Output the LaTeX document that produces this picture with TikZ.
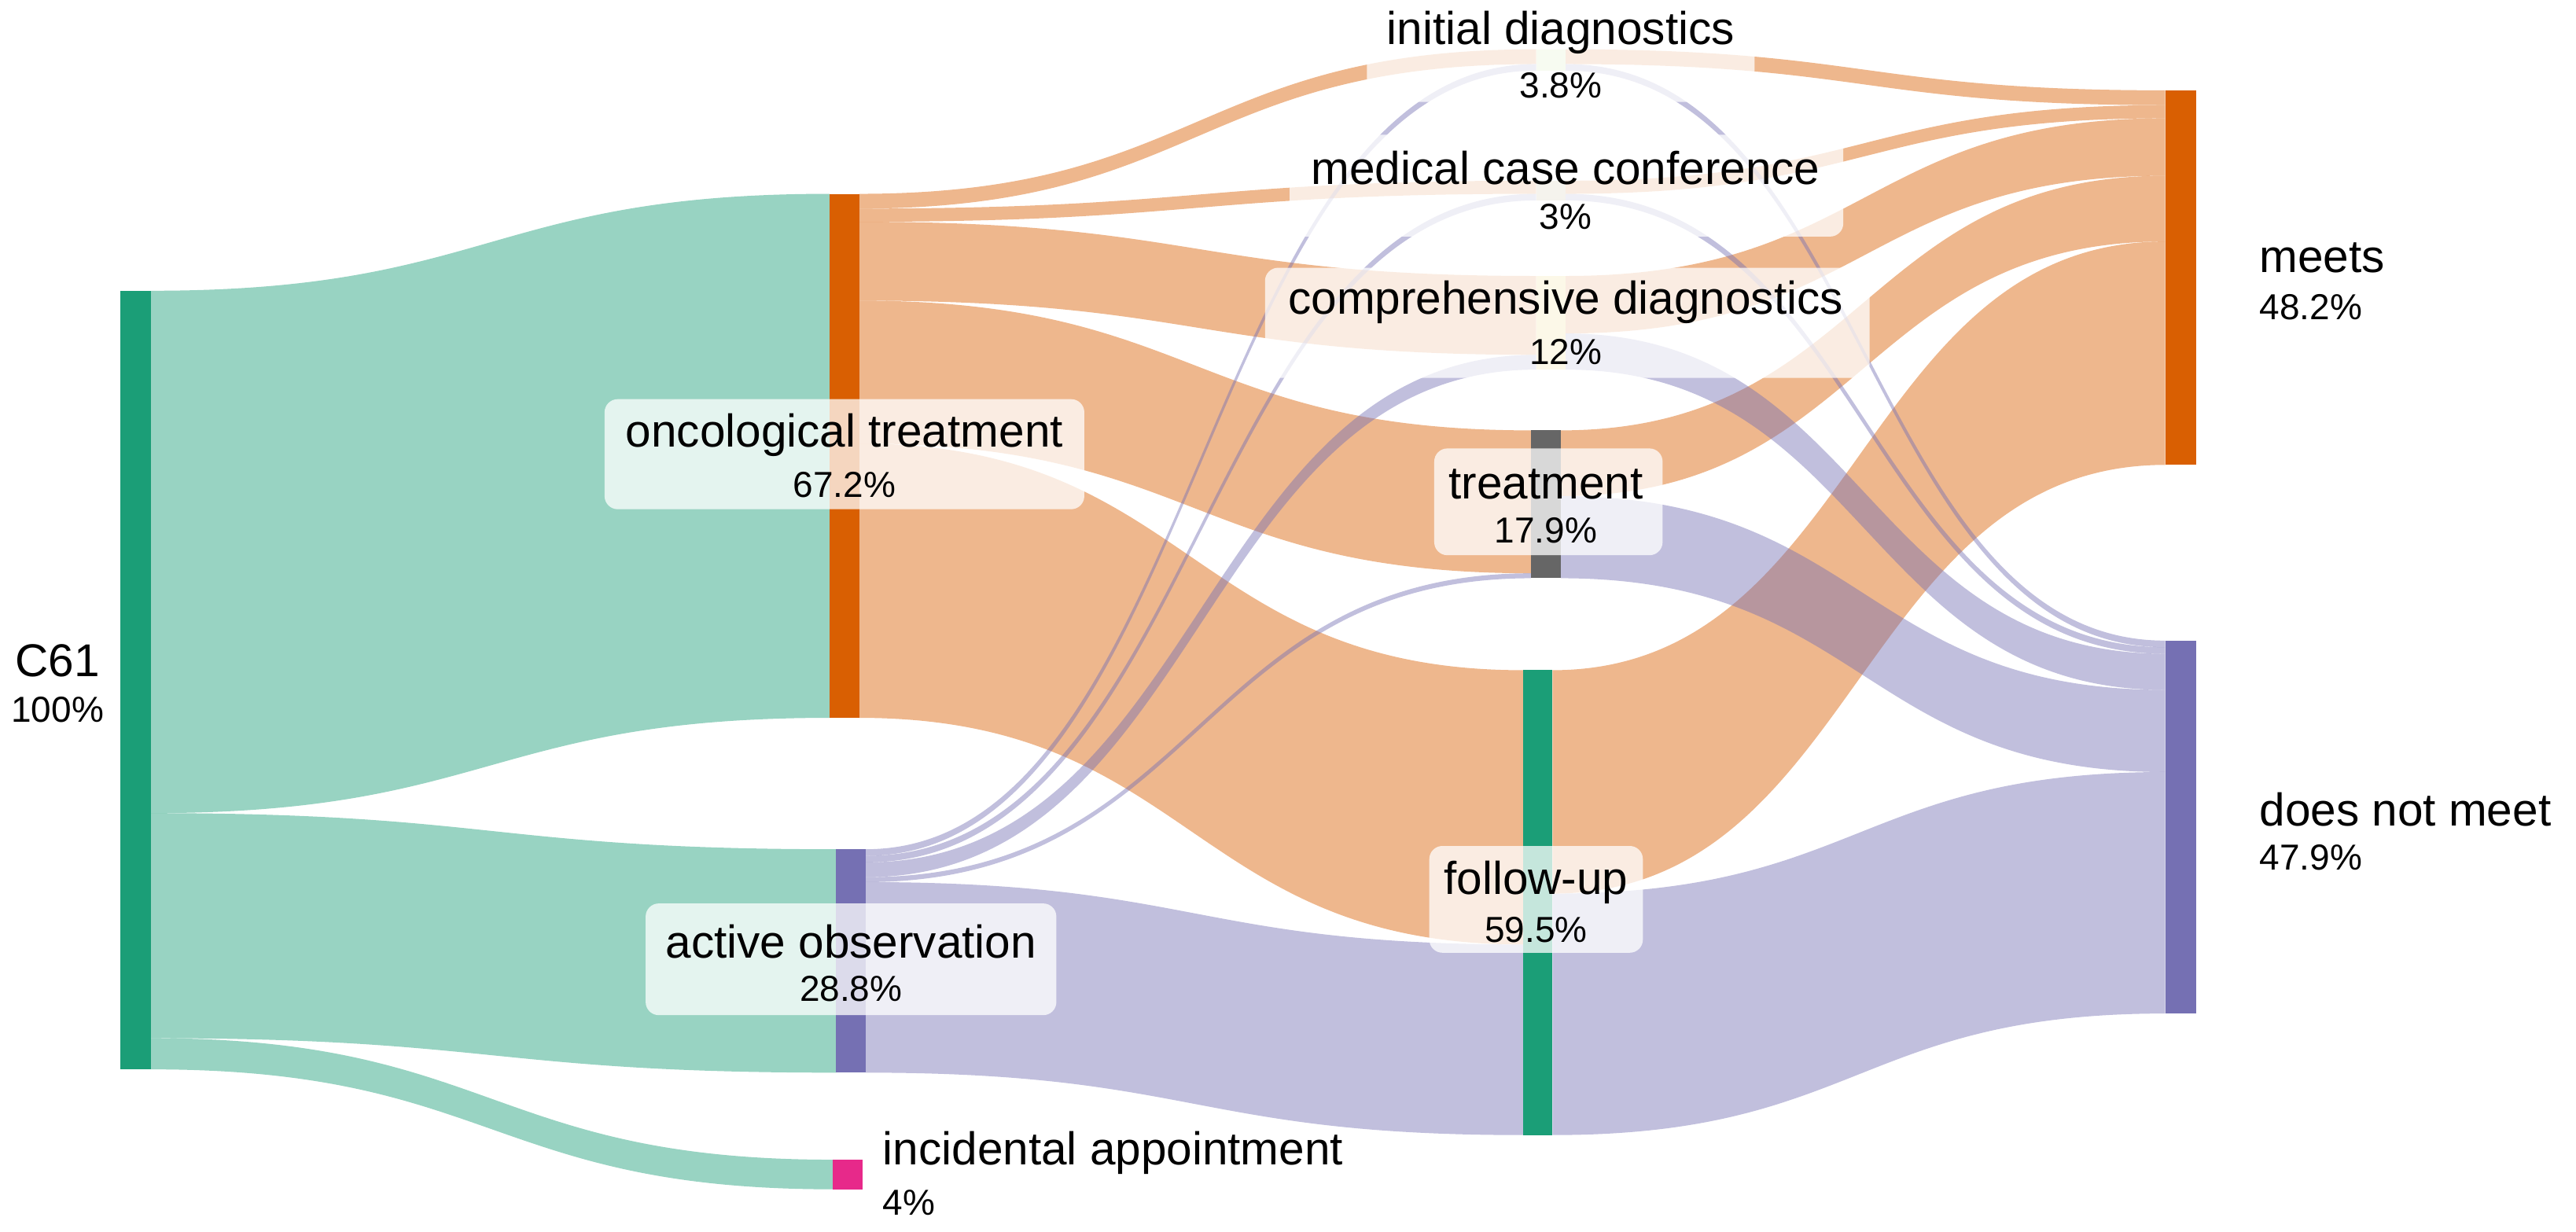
\documentclass[tikz,border=0pt]{standalone}
\usepackage{fontspec}
\setmainfont{Liberation Sans}
\definecolor{cteal}{HTML}{1B9E77}
\definecolor{corange}{HTML}{D95F02}
\definecolor{cpurple}{HTML}{7570B3}
\definecolor{cpink}{HTML}{E7298A}
\definecolor{cgray}{HTML}{666666}
\definecolor{cinit}{HTML}{E3F0C8}
\definecolor{cmcc}{HTML}{D8D2B8}
\definecolor{ccomp}{HTML}{F6E7A6}
\newcommand{\sflow}[7]{%
  \pgfmathsetmacro{\xm}{(#1+#4)/2}%
  \fill[#7,fill opacity=0.45] (#1,#2) .. controls (\xm,#2) and (\xm,#5) .. (#4,#5) -- (#4,#6) .. controls (\xm,#6) and (\xm,#3) .. (#1,#3) -- cycle;}
\tikzset{
  bar/.style={draw=none},
  lbl/.style={font=\fontsize{14}{16}\selectfont,inner sep=0pt},
  pct/.style={font=\fontsize{11}{13}\selectfont,inner sep=0pt},
  box/.style={fill=white,fill opacity=0.75,rounded corners=4pt,draw=none}
}
\begin{document}
\begin{tikzpicture}[x=0.5pt,y=-0.5pt]
\useasboundingbox (0,0) rectangle (1568,750);
% flows from C61
\sflow{92}{177}{495}{505}{118}{437}{cteal}
\sflow{92}{495}{632}{509}{517}{653}{cteal}
\sflow{92}{632}{651}{507}{706}{724}{cteal}
% from oncological treatment
\sflow{523}{118}{127}{935}{30}{39}{corange}
\sflow{523}{127}{135}{935}{110}{118}{corange}
\sflow{523}{135}{183}{935}{168}{216}{corange}
\sflow{523}{183}{270}{932}{262}{349}{corange}
\sflow{523}{270}{437}{927}{408}{575}{corange}
% from active observation
\sflow{527}{517}{521}{935}{39}{43}{cpurple}
\sflow{527}{521}{525}{935}{118}{122}{cpurple}
\sflow{527}{525}{534}{935}{216}{225}{cpurple}
\sflow{527}{534}{537}{932}{349}{352}{cpurple}
\sflow{527}{537}{653}{927}{575}{691}{cpurple}
% to meets
\sflow{953}{30}{39}{1318}{55}{64}{corange}
\sflow{953}{110}{118}{1318}{64}{72}{corange}
\sflow{953}{168}{203}{1318}{72}{107}{corange}
\sflow{950}{262}{302}{1318}{107}{147}{corange}
\sflow{945}{408}{544}{1318}{147}{283}{corange}
% to does not meet
\sflow{953}{39}{43}{1318}{390}{394}{cpurple}
\sflow{953}{118}{122}{1318}{394}{398}{cpurple}
\sflow{953}{203}{225}{1318}{398}{420}{cpurple}
\sflow{950}{302}{352}{1318}{420}{470}{cpurple}
\sflow{945}{544}{691}{1318}{470}{617}{cpurple}
% node bars
\fill[cteal] (73,177) rectangle (92,651) coordinate (c61);
\fill[corange] (505,118) rectangle (523,437) coordinate (onc);
\fill[cpurple] (509,517) rectangle (527,653) coordinate (ao);
\fill[cpink] (507,706) rectangle (525,724) coordinate (inc);
\fill[cinit] (935,30) rectangle (953,43) coordinate (init);
\fill[cmcc] (935,110) rectangle (953,122) coordinate (mcc);
\fill[ccomp] (935,168) rectangle (953,225) coordinate (comp);
\fill[cgray] (932,262) rectangle (950,352) coordinate (treat);
\fill[cteal] (927,408) rectangle (945,691) coordinate (fu);
\fill[corange] (1318,55) rectangle (1337,283) coordinate (meets);
\fill[cpurple] (1318,390) rectangle (1337,617) coordinate (dnm);
% label boxes
\fill[box] (368,243) rectangle (660,310);
\fill[box] (393,550) rectangle (643,618);
\fill[box] (832,3) rectangle (1068,62);
\fill[box] (785,82) rectangle (1122,144);
\fill[box] (770,163) rectangle (1138,230);
\fill[box] (873,273) rectangle (1012,338);
\fill[box] (870,515) rectangle (1000,580);
% labels
\node[lbl] (lc61) at (35,402) {C61};
\node[pct] at (35,432) {100\%};
\node[lbl] (lonc) at (514,265) {oncological treatment};
\node[pct] at (514,295) {67.2\%};
\node[lbl] (lao) at (518,573) {active observation};
\node[pct] at (518,602) {28.8\%};
\node[lbl,anchor=west] (linc) at (537,702) {incidental appointment};
\node[pct,anchor=west] at (537,732) {4\%};
\node[lbl] (linit) at (950,20) {initial diagnostics};
\node[pct] at (950,52) {3.8\%};
\node[lbl] (lmcc) at (953,102) {medical case conference};
\node[pct] at (953,132) {3\%};
\node[lbl] (lcomp) at (953,184) {comprehensive diagnostics};
\node[pct] at (953,214) {12\%};
\node[lbl] (ltreat) at (941,295) {treatment};
\node[pct] at (941,323) {17.9\%};
\node[lbl] (lfu) at (935,537) {follow-up};
\node[pct] at (935,566) {59.5\%};
\node[lbl,anchor=west] (lmeets) at (1375,157) {meets};
\node[pct,anchor=west] at (1375,187) {48.2\%};
\node[lbl,anchor=west] (ldnm) at (1375,493) {does not meet};
\node[pct,anchor=west] at (1375,522) {47.9\%};
\end{tikzpicture}
\end{document}
